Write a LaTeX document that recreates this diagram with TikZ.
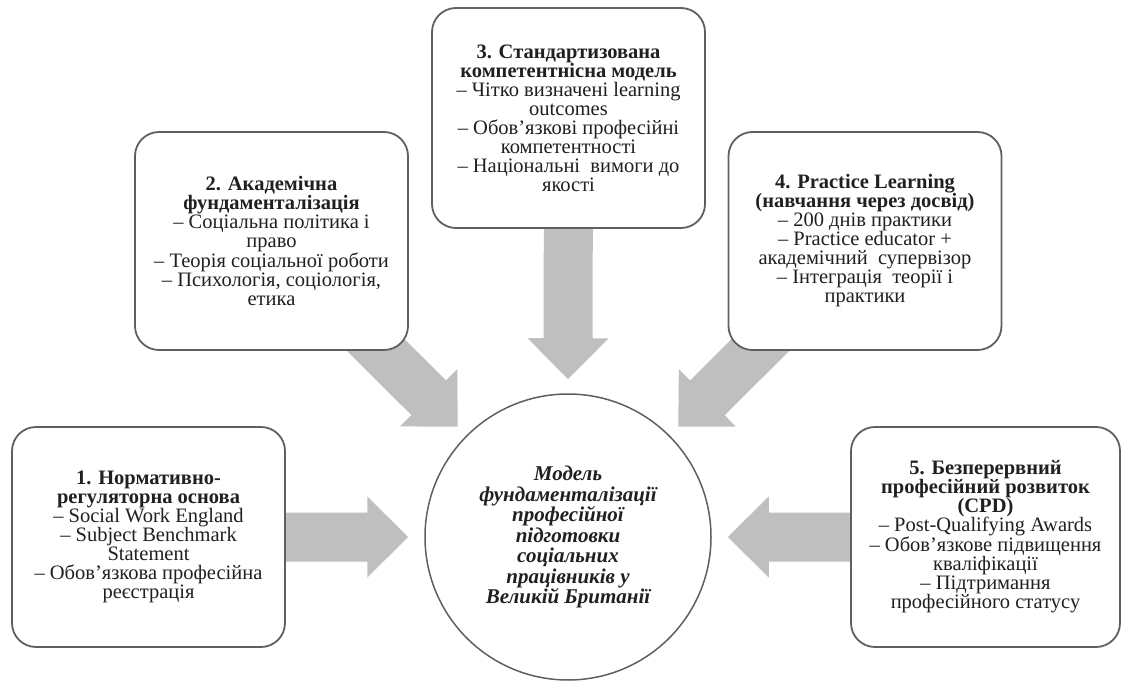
\documentclass[tikz,border=0pt]{standalone}
\usepackage{fontspec}
\setmainfont{Liberation Serif}
\usetikzlibrary{calc}
\pgfdeclarelayer{background}
\pgfsetlayers{background,main}

\definecolor{arrowgray}{HTML}{BFBFBF}
\definecolor{framegray}{HTML}{5F5F5F}
\definecolor{inkcol}{HTML}{202020}

% Broad block arrow from #1 to the tip #2 (shaft 49pt, head 81pt wide, 41pt long)
\newcommand\fatarrow[2]{%
  \coordinate (fa-b) at ($(#2)!41pt!(#1)$);
  \fill[arrowfill]
    ($(#1)!24.5pt!90:(#2)$) -- ($(fa-b)!24.5pt!-90:(#1)$) --
    ($(fa-b)!40.5pt!-90:(#1)$) -- (#2) --
    ($(fa-b)!40.5pt!90:(#1)$) -- ($(fa-b)!24.5pt!90:(#1)$) --
    ($(#1)!24.5pt!-90:(#2)$) -- cycle;}

\begin{document}
\begin{tikzpicture}[x=1pt,y=1pt,
  infobox/.style={draw=framegray, line width=1.8pt, rounded corners=24pt,
    fill=white, minimum width=273pt, minimum height=220pt, inner sep=0pt,
    align=center, text=inkcol, font=\fontsize{20.5}{19}\selectfont},
  hub/.style={circle, draw=framegray, line width=1.5pt, fill=white,
    minimum size=286pt, inner sep=0pt, align=center, text=inkcol,
    font=\fontsize{21}{20.5}\selectfont\bfseries\itshape},
  arrowfill/.style={fill=arrowgray}]
\useasboundingbox (0,0) rectangle (1122,681);

% central model
\node[hub] (hub) at (568,144) {Модель\\фундаменталізації\\професійної\\підготовки\\соціальних\\працівників у\\Великій Британії};

% five components
\node[infobox] (b1) at (148.5,144) {\textbf{1. Нормативно-}\\\textbf{регуляторна основа}\\– Social Work England\\– Subject Benchmark\\Statement\\– Обов’язкова професійна\\реєстрація};
\node[infobox, minimum height=218pt] (b2) at (271.5,440) {\textbf{2. Академічна}\\\textbf{фундаменталізація}\\– Соціальна політика і\\право\\– Теорія соціальної роботи\\– Психологія, соціологія,\\етика};
\node[infobox] (b3) at (568.5,563) {\textbf{3. Стандартизована}\\\textbf{компетентнісна модель}\\– Чітко визначені learning\\outcomes\\– Обов’язкові професійні\\компетентності\\– Національні\ \ вимоги до\\якості};
\node[infobox, minimum height=218pt] (b4) at (865,440) {\textbf{4. Practice Learning}\\\textbf{(навчання через досвід)}\\– 200 днів практики\\– Practice educator +\\академічний\ \ супервізор\\– Інтеграція\ \ теорії і\\практики};
\node[infobox, minimum width=269pt] (b5) at (985.5,144) {\textbf{5. Безперервний}\\\textbf{професійний розвиток}\\\textbf{(CPD)}\\– Post-Qualifying Awards\\– Обов’язкове підвищення\\кваліфікації\\– Підтримання\\професійного статусу};

% arrow tips around the hub
\coordinate (t1) at ($(hub.west)+(-16,0)$);
\coordinate (t2) at ($(hub.center)+(135:156)$);
\coordinate (t3) at ($(hub.north)+(0,14)$);
\coordinate (t4) at ($(hub.center)+(45:156)$);
\coordinate (t5) at ($(hub.east)+(16,0)$);

\begin{pgfonlayer}{background}
  \fatarrow{b1.center}{t1}
  \fatarrow{b2.center}{t2}
  \fatarrow{b3.center}{t3}
  \fatarrow{b4.center}{t4}
  \fatarrow{b5.center}{t5}
\end{pgfonlayer}
\end{tikzpicture}
\end{document}
